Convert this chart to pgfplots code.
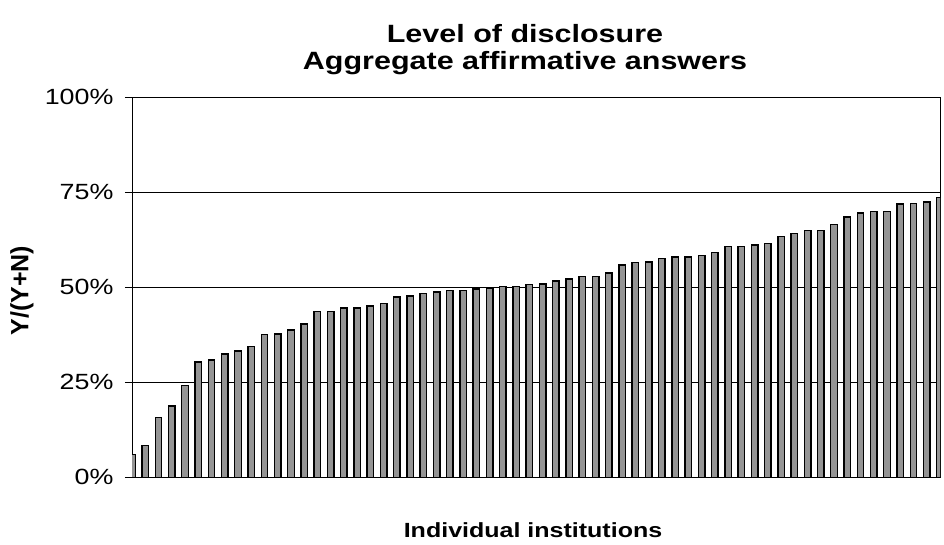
\documentclass[border=0pt]{standalone}
\usepackage{fontspec}
\setmainfont{Liberation Sans}[FakeStretch=1.22]
\newfontfamily\plainfont{Liberation Sans}
\usepackage{pgfplots}
\pgfplotsset{compat=1.18}
\usepackage{pgfplotstable}

% share of affirmative answers per institution, sorted
\pgfplotstableread{
inst share
1 6.0
2 8.3
3 15.7
4 18.8
5 24.2
6 30.3
7 30.9
8 32.4
9 33.2
10 34.4
11 37.5
12 37.7
13 38.8
14 40.3
15 43.6
16 43.6
17 44.5
18 44.5
19 45.1
20 45.8
21 47.4
22 47.7
23 48.4
24 48.8
25 49.2
26 49.2
27 49.6
28 49.8
29 50.2
30 50.2
31 50.8
32 50.9
33 51.7
34 52.2
35 52.8
36 52.8
37 53.8
38 55.9
39 56.5
40 56.7
41 57.5
42 58.0
43 58.0
44 58.3
45 59.1
46 60.7
47 60.7
48 61.1
49 61.6
50 63.3
51 64.2
52 64.9
53 64.9
54 66.5
55 68.5
56 69.6
57 69.9
58 69.9
59 71.9
60 72.0
61 72.4
62 73.6
}\disclosure

\begin{document}
\begin{tikzpicture}
\path[use as bounding box] (0pt,0pt) rectangle (944pt,545pt);
\begin{axis}[
  at={(132pt,67.7pt)}, anchor=south west,
  width=808pt, height=380pt, scale only axis,
  xmin=1, xmax=62, ymin=0, ymax=100,
  xtick=\empty,
  ytick={0,25,50,75,100},
  yticklabel={\pgfmathprintnumber{\tick}\%},
  /pgf/number format/assume math mode=true,
  ymajorgrids, grid style={black, line width=0.8pt},
  axis line style={black, line width=0.8pt},
  tick style={black, line width=0.8pt},
  tick align=outside, ytick pos=left, major tick length=7pt,
  yticklabel style={font=\fontsize{22}{26}\selectfont, xshift=-8pt},
  ybar, bar width=6.5pt,
]
\addplot[fill=black!42, draw=black, line width=1.4pt] table[x=inst,y=share]{\disclosure};
\end{axis}
\node[anchor=base, font=\bfseries\fontsize{25}{30}\selectfont] at (525pt,502pt) {Level of disclosure};
\node[anchor=base, font=\bfseries\fontsize{25}{30}\selectfont] at (525pt,475pt) {Aggregate affirmative answers};
\node[anchor=base, font=\bfseries\fontsize{20.5}{24}\selectfont] at (533pt,7pt) {Individual institutions};
\node[rotate=90, font=\plainfont\bfseries\fontsize{25}{30}\selectfont] at (22pt,254.5pt) {Y/(Y+N)};
\end{tikzpicture}
\end{document}
